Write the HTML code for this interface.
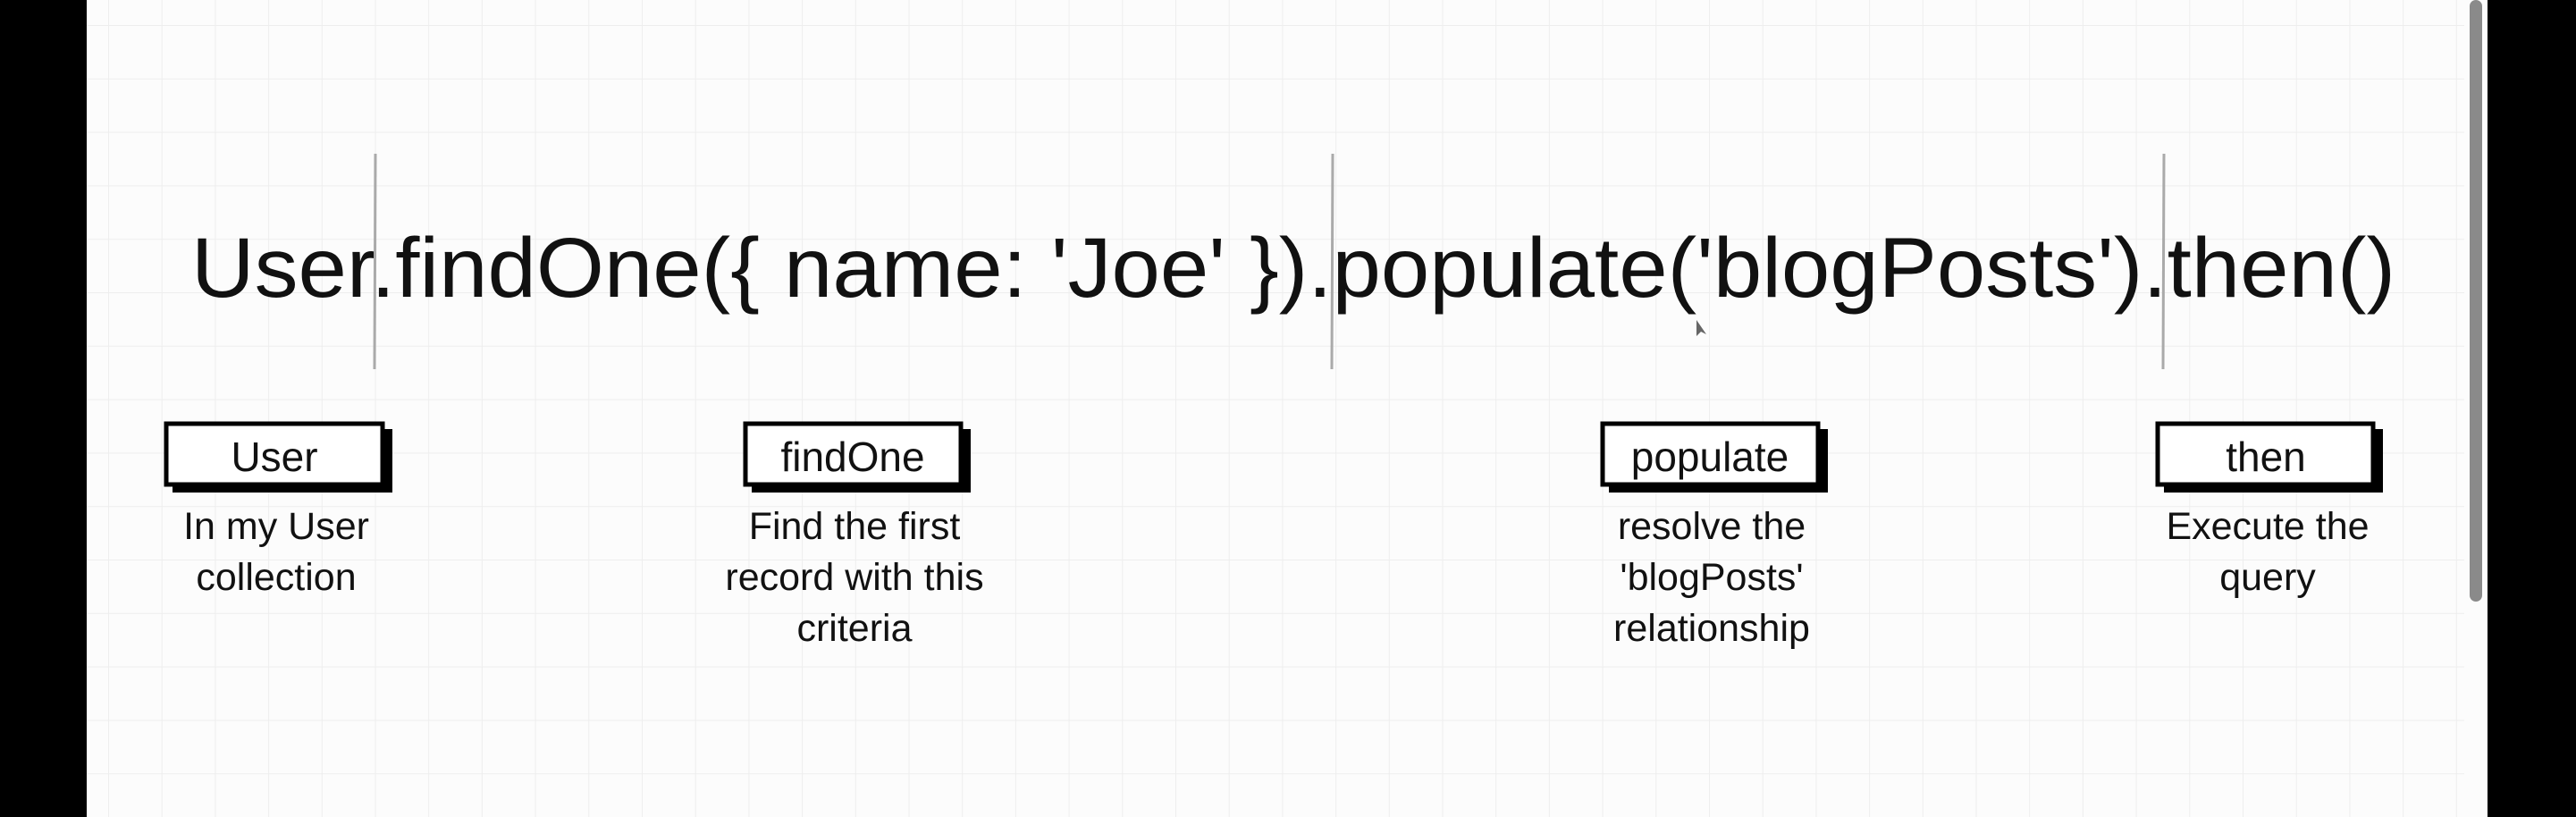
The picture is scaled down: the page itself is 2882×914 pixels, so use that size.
<!DOCTYPE html>
<html><head><meta charset="utf-8"><style>
html,body{margin:0;padding:0;background:#000;}
svg{display:block;}
</style></head><body>
<svg width="2882" height="914" viewBox="0 0 2882 914" xmlns="http://www.w3.org/2000/svg" font-family="'Liberation Sans', sans-serif">
<defs>
<pattern id="g" x="121" y="28" width="59.7" height="59.8" patternUnits="userSpaceOnUse">
<path d="M0 0 V59.8 M0 0 H59.7" stroke="#eeeeee" stroke-width="2" fill="none"/>
</pattern>
</defs>
<rect x="0" y="0" width="2882" height="914" fill="#000"/>
<rect x="97" y="0" width="2686" height="914" fill="#fcfcfc"/>
<rect x="97" y="0" width="2660" height="914" fill="url(#g)"/>
<rect x="2763" y="0" width="14" height="673" rx="7" fill="#8a8a8a"/>

<text x="214" y="332" font-size="95" fill="#111" textLength="2466" lengthAdjust="spacingAndGlyphs">User.findOne({ name: 'Joe' }).populate('blogPosts').then()</text>

<g stroke="#aaa" stroke-width="3">
<line x1="420" y1="172" x2="419" y2="413"/>
<line x1="1491" y1="172" x2="1490" y2="413"/>
<line x1="2421" y1="172" x2="2420" y2="413"/>
</g>
<path d="M1898 358 l0 18 l5 -5 l6 3 z" fill="#666"/>

<g>
<rect x="193" y="480" width="246" height="71" fill="#000"/>
<rect x="186" y="474" width="242" height="68" fill="#fff" stroke="#000" stroke-width="5"/>
<text x="307" y="527" font-size="46" text-anchor="middle" fill="#111">User</text>
<text x="309" y="603" font-size="43" text-anchor="middle" fill="#111">In my User</text>
<text x="309" y="660" font-size="43" text-anchor="middle" fill="#111">collection</text>
</g>
<g>
<rect x="841" y="480" width="245" height="71" fill="#000"/>
<rect x="834" y="474" width="241" height="68" fill="#fff" stroke="#000" stroke-width="5"/>
<text x="954" y="527" font-size="46" text-anchor="middle" fill="#111">findOne</text>
<text x="956" y="603" font-size="43" text-anchor="middle" fill="#111">Find the first</text>
<text x="956" y="660" font-size="43" text-anchor="middle" fill="#111">record with this</text>
<text x="956" y="717" font-size="43" text-anchor="middle" fill="#111">criteria</text>
</g>
<g>
<rect x="1800" y="480" width="245" height="71" fill="#000"/>
<rect x="1793" y="474" width="241" height="68" fill="#fff" stroke="#000" stroke-width="5"/>
<text x="1913" y="527" font-size="46" text-anchor="middle" fill="#111">populate</text>
<text x="1915" y="603" font-size="43" text-anchor="middle" fill="#111">resolve the</text>
<text x="1915" y="660" font-size="43" text-anchor="middle" fill="#111">'blogPosts'</text>
<text x="1915" y="717" font-size="43" text-anchor="middle" fill="#111">relationship</text>
</g>
<g>
<rect x="2421" y="480" width="245" height="71" fill="#000"/>
<rect x="2414" y="474" width="241" height="68" fill="#fff" stroke="#000" stroke-width="5"/>
<text x="2535" y="527" font-size="46" text-anchor="middle" fill="#111">then</text>
<text x="2537" y="603" font-size="43" text-anchor="middle" fill="#111">Execute the</text>
<text x="2537" y="660" font-size="43" text-anchor="middle" fill="#111">query</text>
</g>
</svg>
</body></html>
